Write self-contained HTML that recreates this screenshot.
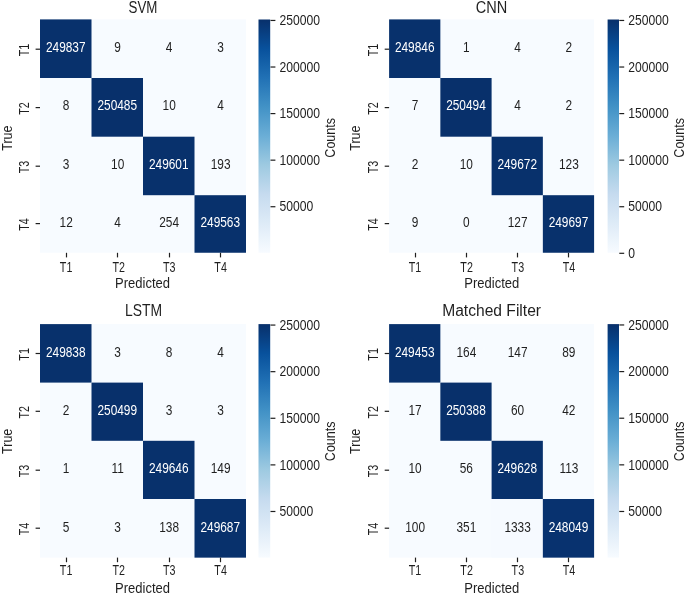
<!DOCTYPE html>
<html><head><meta charset="utf-8"><title>Confusion matrices</title>
<style>html,body{margin:0;padding:0;background:#fff}body{width:685px;height:595px;overflow:hidden}</style>
</head><body>
<svg width="685" height="595" viewBox="0 0 685 595" font-family="'Liberation Sans', sans-serif" style="display:block">
<defs><linearGradient id="g" x1="0" y1="1" x2="0" y2="0"><stop offset="0.0" stop-color="#f7fbff"/><stop offset="0.125" stop-color="#deebf7"/><stop offset="0.25" stop-color="#c6dbef"/><stop offset="0.375" stop-color="#9ecae1"/><stop offset="0.5" stop-color="#6baed6"/><stop offset="0.625" stop-color="#4292c6"/><stop offset="0.75" stop-color="#2171b5"/><stop offset="0.875" stop-color="#08519c"/><stop offset="1.0" stop-color="#08306b"/></linearGradient></defs>
<rect x="40.0" y="19.4" width="206.0" height="233.35" fill="#f7fbff"/>
<rect x="40.00" y="19.40" width="51.50" height="58.60" fill="#08316c"/>
<rect x="91.50" y="78.00" width="51.50" height="58.70" fill="#08306b"/>
<rect x="143.00" y="136.70" width="51.50" height="58.50" fill="#08316c"/>
<rect x="194.50" y="195.20" width="51.50" height="57.55" fill="#08316c"/>
<text transform="translate(65.75,52.06) scale(0.82,1)" font-size="14.5" text-anchor="middle" fill="#ffffff">249837</text>
<text transform="translate(117.65,52.06) scale(0.82,1)" font-size="14.5" text-anchor="middle" fill="#1f1f1f">9</text>
<text transform="translate(169.15,52.06) scale(0.82,1)" font-size="14.5" text-anchor="middle" fill="#1f1f1f">4</text>
<text transform="translate(220.65,52.06) scale(0.82,1)" font-size="14.5" text-anchor="middle" fill="#1f1f1f">3</text>
<text transform="translate(66.15,110.39) scale(0.82,1)" font-size="14.5" text-anchor="middle" fill="#1f1f1f">8</text>
<text transform="translate(117.25,110.39) scale(0.82,1)" font-size="14.5" text-anchor="middle" fill="#ffffff">250485</text>
<text transform="translate(169.15,110.39) scale(0.82,1)" font-size="14.5" text-anchor="middle" fill="#1f1f1f">10</text>
<text transform="translate(220.65,110.39) scale(0.82,1)" font-size="14.5" text-anchor="middle" fill="#1f1f1f">4</text>
<text transform="translate(66.15,168.71) scale(0.82,1)" font-size="14.5" text-anchor="middle" fill="#1f1f1f">3</text>
<text transform="translate(117.65,168.71) scale(0.82,1)" font-size="14.5" text-anchor="middle" fill="#1f1f1f">10</text>
<text transform="translate(168.75,168.71) scale(0.82,1)" font-size="14.5" text-anchor="middle" fill="#ffffff">249601</text>
<text transform="translate(220.65,168.71) scale(0.82,1)" font-size="14.5" text-anchor="middle" fill="#1f1f1f">193</text>
<text transform="translate(66.15,227.04) scale(0.82,1)" font-size="14.5" text-anchor="middle" fill="#1f1f1f">12</text>
<text transform="translate(117.65,227.04) scale(0.82,1)" font-size="14.5" text-anchor="middle" fill="#1f1f1f">4</text>
<text transform="translate(169.15,227.04) scale(0.82,1)" font-size="14.5" text-anchor="middle" fill="#1f1f1f">254</text>
<text transform="translate(220.25,227.04) scale(0.82,1)" font-size="14.5" text-anchor="middle" fill="#ffffff">249563</text>
<text transform="translate(143.00,12.50) scale(0.855,1)" font-size="15.6" text-anchor="middle" fill="#1f1f1f">SVM</text>
<line x1="66.50" y1="252.80" x2="66.50" y2="257.40" stroke="#1f1f1f" stroke-width="1.2"/>
<text transform="translate(66.10,271.70) scale(0.755,1)" font-size="14.2" text-anchor="middle" fill="#1f1f1f">T1</text>
<line x1="35.60" y1="49.20" x2="40.00" y2="49.20" stroke="#1f1f1f" stroke-width="1.2"/>
<text transform="translate(28.80,50.10) rotate(-90) scale(0.755,1)" font-size="14.2" text-anchor="middle" fill="#1f1f1f">T1</text>
<line x1="117.50" y1="252.80" x2="117.50" y2="257.40" stroke="#1f1f1f" stroke-width="1.2"/>
<text transform="translate(118.70,271.70) scale(0.755,1)" font-size="14.2" text-anchor="middle" fill="#1f1f1f">T2</text>
<line x1="35.60" y1="107.60" x2="40.00" y2="107.60" stroke="#1f1f1f" stroke-width="1.2"/>
<text transform="translate(28.80,108.50) rotate(-90) scale(0.755,1)" font-size="14.2" text-anchor="middle" fill="#1f1f1f">T2</text>
<line x1="169.50" y1="252.80" x2="169.50" y2="257.40" stroke="#1f1f1f" stroke-width="1.2"/>
<text transform="translate(169.30,271.70) scale(0.755,1)" font-size="14.2" text-anchor="middle" fill="#1f1f1f">T3</text>
<line x1="35.60" y1="166.20" x2="40.00" y2="166.20" stroke="#1f1f1f" stroke-width="1.2"/>
<text transform="translate(28.80,167.10) rotate(-90) scale(0.755,1)" font-size="14.2" text-anchor="middle" fill="#1f1f1f">T3</text>
<line x1="220.50" y1="252.80" x2="220.50" y2="257.40" stroke="#1f1f1f" stroke-width="1.2"/>
<text transform="translate(220.60,271.70) scale(0.755,1)" font-size="14.2" text-anchor="middle" fill="#1f1f1f">T4</text>
<line x1="35.60" y1="223.60" x2="40.00" y2="223.60" stroke="#1f1f1f" stroke-width="1.2"/>
<text transform="translate(28.80,224.50) rotate(-90) scale(0.755,1)" font-size="14.2" text-anchor="middle" fill="#1f1f1f">T4</text>
<text transform="translate(142.50,288.40) scale(0.943,1)" font-size="13.8" text-anchor="middle" fill="#1f1f1f">Predicted</text>
<text transform="translate(11.80,138.15) rotate(-90) scale(0.905,1)" font-size="13.8" text-anchor="middle" fill="#1f1f1f">True</text>
<rect x="258.5" y="19.5" width="11.70" height="233.3" fill="url(#g)"/>
<line x1="270.50" y1="206.73" x2="275.40" y2="206.73" stroke="#1f1f1f" stroke-width="1.2"/>
<text transform="translate(279.40,211.43) scale(0.856,1)" font-size="14.2" text-anchor="start" fill="#1f1f1f">50000</text>
<line x1="270.50" y1="160.16" x2="275.40" y2="160.16" stroke="#1f1f1f" stroke-width="1.2"/>
<text transform="translate(279.40,164.86) scale(0.856,1)" font-size="14.2" text-anchor="start" fill="#1f1f1f">100000</text>
<line x1="270.50" y1="113.59" x2="275.40" y2="113.59" stroke="#1f1f1f" stroke-width="1.2"/>
<text transform="translate(279.40,118.29) scale(0.856,1)" font-size="14.2" text-anchor="start" fill="#1f1f1f">150000</text>
<line x1="270.50" y1="67.02" x2="275.40" y2="67.02" stroke="#1f1f1f" stroke-width="1.2"/>
<text transform="translate(279.40,71.72) scale(0.856,1)" font-size="14.2" text-anchor="start" fill="#1f1f1f">200000</text>
<line x1="270.50" y1="20.45" x2="275.40" y2="20.45" stroke="#1f1f1f" stroke-width="1.2"/>
<text transform="translate(279.40,25.15) scale(0.856,1)" font-size="14.2" text-anchor="start" fill="#1f1f1f">250000</text>
<text transform="translate(334.80,137.85) rotate(-90) scale(0.905,1)" font-size="13.8" text-anchor="middle" fill="#1f1f1f">Counts</text>
<rect x="389.1" y="19.4" width="205.0" height="233.35" fill="#f7fbff"/>
<rect x="389.10" y="19.40" width="51.25" height="58.60" fill="#08316c"/>
<rect x="440.35" y="78.00" width="51.25" height="58.70" fill="#08306b"/>
<rect x="491.60" y="136.70" width="51.25" height="58.50" fill="#08316c"/>
<rect x="542.85" y="195.20" width="51.25" height="57.55" fill="#08316c"/>
<text transform="translate(414.73,52.06) scale(0.82,1)" font-size="14.5" text-anchor="middle" fill="#ffffff">249846</text>
<text transform="translate(466.38,52.06) scale(0.82,1)" font-size="14.5" text-anchor="middle" fill="#1f1f1f">1</text>
<text transform="translate(517.62,52.06) scale(0.82,1)" font-size="14.5" text-anchor="middle" fill="#1f1f1f">4</text>
<text transform="translate(568.88,52.06) scale(0.82,1)" font-size="14.5" text-anchor="middle" fill="#1f1f1f">2</text>
<text transform="translate(415.12,110.39) scale(0.82,1)" font-size="14.5" text-anchor="middle" fill="#1f1f1f">7</text>
<text transform="translate(465.98,110.39) scale(0.82,1)" font-size="14.5" text-anchor="middle" fill="#ffffff">250494</text>
<text transform="translate(517.62,110.39) scale(0.82,1)" font-size="14.5" text-anchor="middle" fill="#1f1f1f">4</text>
<text transform="translate(568.88,110.39) scale(0.82,1)" font-size="14.5" text-anchor="middle" fill="#1f1f1f">2</text>
<text transform="translate(415.12,168.71) scale(0.82,1)" font-size="14.5" text-anchor="middle" fill="#1f1f1f">2</text>
<text transform="translate(466.38,168.71) scale(0.82,1)" font-size="14.5" text-anchor="middle" fill="#1f1f1f">10</text>
<text transform="translate(517.23,168.71) scale(0.82,1)" font-size="14.5" text-anchor="middle" fill="#ffffff">249672</text>
<text transform="translate(568.88,168.71) scale(0.82,1)" font-size="14.5" text-anchor="middle" fill="#1f1f1f">123</text>
<text transform="translate(415.12,227.04) scale(0.82,1)" font-size="14.5" text-anchor="middle" fill="#1f1f1f">9</text>
<text transform="translate(466.38,227.04) scale(0.82,1)" font-size="14.5" text-anchor="middle" fill="#1f1f1f">0</text>
<text transform="translate(517.62,227.04) scale(0.82,1)" font-size="14.5" text-anchor="middle" fill="#1f1f1f">127</text>
<text transform="translate(568.48,227.04) scale(0.82,1)" font-size="14.5" text-anchor="middle" fill="#ffffff">249697</text>
<text transform="translate(491.60,12.50) scale(0.932,1)" font-size="15.6" text-anchor="middle" fill="#1f1f1f">CNN</text>
<line x1="415.50" y1="252.80" x2="415.50" y2="257.40" stroke="#1f1f1f" stroke-width="1.2"/>
<text transform="translate(414.93,271.70) scale(0.755,1)" font-size="14.2" text-anchor="middle" fill="#1f1f1f">T1</text>
<line x1="384.70" y1="49.20" x2="389.10" y2="49.20" stroke="#1f1f1f" stroke-width="1.2"/>
<text transform="translate(377.90,50.10) rotate(-90) scale(0.755,1)" font-size="14.2" text-anchor="middle" fill="#1f1f1f">T1</text>
<line x1="466.50" y1="252.80" x2="466.50" y2="257.40" stroke="#1f1f1f" stroke-width="1.2"/>
<text transform="translate(466.62,271.70) scale(0.755,1)" font-size="14.2" text-anchor="middle" fill="#1f1f1f">T2</text>
<line x1="384.70" y1="107.60" x2="389.10" y2="107.60" stroke="#1f1f1f" stroke-width="1.2"/>
<text transform="translate(377.90,108.50) rotate(-90) scale(0.755,1)" font-size="14.2" text-anchor="middle" fill="#1f1f1f">T2</text>
<line x1="517.50" y1="252.80" x2="517.50" y2="257.40" stroke="#1f1f1f" stroke-width="1.2"/>
<text transform="translate(517.88,271.70) scale(0.755,1)" font-size="14.2" text-anchor="middle" fill="#1f1f1f">T3</text>
<line x1="384.70" y1="166.20" x2="389.10" y2="166.20" stroke="#1f1f1f" stroke-width="1.2"/>
<text transform="translate(377.90,167.10) rotate(-90) scale(0.755,1)" font-size="14.2" text-anchor="middle" fill="#1f1f1f">T3</text>
<line x1="568.50" y1="252.80" x2="568.50" y2="257.40" stroke="#1f1f1f" stroke-width="1.2"/>
<text transform="translate(569.02,271.70) scale(0.755,1)" font-size="14.2" text-anchor="middle" fill="#1f1f1f">T4</text>
<line x1="384.70" y1="223.60" x2="389.10" y2="223.60" stroke="#1f1f1f" stroke-width="1.2"/>
<text transform="translate(377.90,224.50) rotate(-90) scale(0.755,1)" font-size="14.2" text-anchor="middle" fill="#1f1f1f">T4</text>
<text transform="translate(491.80,288.40) scale(0.943,1)" font-size="13.8" text-anchor="middle" fill="#1f1f1f">Predicted</text>
<text transform="translate(360.10,138.15) rotate(-90) scale(0.905,1)" font-size="13.8" text-anchor="middle" fill="#1f1f1f">True</text>
<rect x="607.6" y="19.5" width="11.40" height="233.3" fill="url(#g)"/>
<line x1="619.30" y1="253.30" x2="624.20" y2="253.30" stroke="#1f1f1f" stroke-width="1.2"/>
<text transform="translate(628.20,258.00) scale(0.856,1)" font-size="14.2" text-anchor="start" fill="#1f1f1f">0</text>
<line x1="619.30" y1="206.73" x2="624.20" y2="206.73" stroke="#1f1f1f" stroke-width="1.2"/>
<text transform="translate(628.20,211.43) scale(0.856,1)" font-size="14.2" text-anchor="start" fill="#1f1f1f">50000</text>
<line x1="619.30" y1="160.16" x2="624.20" y2="160.16" stroke="#1f1f1f" stroke-width="1.2"/>
<text transform="translate(628.20,164.86) scale(0.856,1)" font-size="14.2" text-anchor="start" fill="#1f1f1f">100000</text>
<line x1="619.30" y1="113.60" x2="624.20" y2="113.60" stroke="#1f1f1f" stroke-width="1.2"/>
<text transform="translate(628.20,118.30) scale(0.856,1)" font-size="14.2" text-anchor="start" fill="#1f1f1f">150000</text>
<line x1="619.30" y1="67.03" x2="624.20" y2="67.03" stroke="#1f1f1f" stroke-width="1.2"/>
<text transform="translate(628.20,71.73) scale(0.856,1)" font-size="14.2" text-anchor="start" fill="#1f1f1f">200000</text>
<line x1="619.30" y1="20.46" x2="624.20" y2="20.46" stroke="#1f1f1f" stroke-width="1.2"/>
<text transform="translate(628.20,25.16) scale(0.856,1)" font-size="14.2" text-anchor="start" fill="#1f1f1f">250000</text>
<text transform="translate(683.60,137.85) rotate(-90) scale(0.905,1)" font-size="13.8" text-anchor="middle" fill="#1f1f1f">Counts</text>
<rect x="40.0" y="324.1" width="206.0" height="233.55" fill="#f7fbff"/>
<rect x="40.00" y="324.10" width="51.50" height="58.50" fill="#08316c"/>
<rect x="91.50" y="382.60" width="51.50" height="58.20" fill="#08306b"/>
<rect x="143.00" y="440.80" width="51.50" height="58.20" fill="#08316c"/>
<rect x="194.50" y="499.00" width="51.50" height="58.65" fill="#08316c"/>
<text transform="translate(65.75,356.69) scale(0.82,1)" font-size="14.5" text-anchor="middle" fill="#ffffff">249838</text>
<text transform="translate(117.65,356.69) scale(0.82,1)" font-size="14.5" text-anchor="middle" fill="#1f1f1f">3</text>
<text transform="translate(169.15,356.69) scale(0.82,1)" font-size="14.5" text-anchor="middle" fill="#1f1f1f">8</text>
<text transform="translate(220.65,356.69) scale(0.82,1)" font-size="14.5" text-anchor="middle" fill="#1f1f1f">4</text>
<text transform="translate(66.15,415.06) scale(0.82,1)" font-size="14.5" text-anchor="middle" fill="#1f1f1f">2</text>
<text transform="translate(117.25,415.06) scale(0.82,1)" font-size="14.5" text-anchor="middle" fill="#ffffff">250499</text>
<text transform="translate(169.15,415.06) scale(0.82,1)" font-size="14.5" text-anchor="middle" fill="#1f1f1f">3</text>
<text transform="translate(220.65,415.06) scale(0.82,1)" font-size="14.5" text-anchor="middle" fill="#1f1f1f">3</text>
<text transform="translate(66.15,473.44) scale(0.82,1)" font-size="14.5" text-anchor="middle" fill="#1f1f1f">1</text>
<text transform="translate(117.65,473.44) scale(0.82,1)" font-size="14.5" text-anchor="middle" fill="#1f1f1f">11</text>
<text transform="translate(168.75,473.44) scale(0.82,1)" font-size="14.5" text-anchor="middle" fill="#ffffff">249646</text>
<text transform="translate(220.65,473.44) scale(0.82,1)" font-size="14.5" text-anchor="middle" fill="#1f1f1f">149</text>
<text transform="translate(66.15,531.81) scale(0.82,1)" font-size="14.5" text-anchor="middle" fill="#1f1f1f">5</text>
<text transform="translate(117.65,531.81) scale(0.82,1)" font-size="14.5" text-anchor="middle" fill="#1f1f1f">3</text>
<text transform="translate(169.15,531.81) scale(0.82,1)" font-size="14.5" text-anchor="middle" fill="#1f1f1f">138</text>
<text transform="translate(220.25,531.81) scale(0.82,1)" font-size="14.5" text-anchor="middle" fill="#ffffff">249687</text>
<text transform="translate(143.60,316.00) scale(0.893,1)" font-size="15.6" text-anchor="middle" fill="#1f1f1f">LSTM</text>
<line x1="66.50" y1="557.60" x2="66.50" y2="562.20" stroke="#1f1f1f" stroke-width="1.2"/>
<text transform="translate(66.10,575.30) scale(0.755,1)" font-size="14.2" text-anchor="middle" fill="#1f1f1f">T1</text>
<line x1="35.60" y1="353.50" x2="40.00" y2="353.50" stroke="#1f1f1f" stroke-width="1.2"/>
<text transform="translate(28.80,354.40) rotate(-90) scale(0.755,1)" font-size="14.2" text-anchor="middle" fill="#1f1f1f">T1</text>
<line x1="117.50" y1="557.60" x2="117.50" y2="562.20" stroke="#1f1f1f" stroke-width="1.2"/>
<text transform="translate(118.70,575.30) scale(0.755,1)" font-size="14.2" text-anchor="middle" fill="#1f1f1f">T2</text>
<line x1="35.60" y1="411.30" x2="40.00" y2="411.30" stroke="#1f1f1f" stroke-width="1.2"/>
<text transform="translate(28.80,412.20) rotate(-90) scale(0.755,1)" font-size="14.2" text-anchor="middle" fill="#1f1f1f">T2</text>
<line x1="169.50" y1="557.60" x2="169.50" y2="562.20" stroke="#1f1f1f" stroke-width="1.2"/>
<text transform="translate(169.30,575.30) scale(0.755,1)" font-size="14.2" text-anchor="middle" fill="#1f1f1f">T3</text>
<line x1="35.60" y1="470.20" x2="40.00" y2="470.20" stroke="#1f1f1f" stroke-width="1.2"/>
<text transform="translate(28.80,471.10) rotate(-90) scale(0.755,1)" font-size="14.2" text-anchor="middle" fill="#1f1f1f">T3</text>
<line x1="220.50" y1="557.60" x2="220.50" y2="562.20" stroke="#1f1f1f" stroke-width="1.2"/>
<text transform="translate(220.60,575.30) scale(0.755,1)" font-size="14.2" text-anchor="middle" fill="#1f1f1f">T4</text>
<line x1="35.60" y1="528.20" x2="40.00" y2="528.20" stroke="#1f1f1f" stroke-width="1.2"/>
<text transform="translate(28.80,529.10) rotate(-90) scale(0.755,1)" font-size="14.2" text-anchor="middle" fill="#1f1f1f">T4</text>
<text transform="translate(142.50,592.60) scale(0.943,1)" font-size="13.8" text-anchor="middle" fill="#1f1f1f">Predicted</text>
<text transform="translate(11.80,441.30) rotate(-90) scale(0.905,1)" font-size="13.8" text-anchor="middle" fill="#1f1f1f">True</text>
<rect x="258.5" y="324.1" width="11.70" height="233.5" fill="url(#g)"/>
<line x1="270.50" y1="511.49" x2="275.40" y2="511.49" stroke="#1f1f1f" stroke-width="1.2"/>
<text transform="translate(279.40,516.19) scale(0.856,1)" font-size="14.2" text-anchor="start" fill="#1f1f1f">50000</text>
<line x1="270.50" y1="464.89" x2="275.40" y2="464.89" stroke="#1f1f1f" stroke-width="1.2"/>
<text transform="translate(279.40,469.59) scale(0.856,1)" font-size="14.2" text-anchor="start" fill="#1f1f1f">100000</text>
<line x1="270.50" y1="418.28" x2="275.40" y2="418.28" stroke="#1f1f1f" stroke-width="1.2"/>
<text transform="translate(279.40,422.98) scale(0.856,1)" font-size="14.2" text-anchor="start" fill="#1f1f1f">150000</text>
<line x1="270.50" y1="371.67" x2="275.40" y2="371.67" stroke="#1f1f1f" stroke-width="1.2"/>
<text transform="translate(279.40,376.37) scale(0.856,1)" font-size="14.2" text-anchor="start" fill="#1f1f1f">200000</text>
<line x1="270.50" y1="325.07" x2="275.40" y2="325.07" stroke="#1f1f1f" stroke-width="1.2"/>
<text transform="translate(279.40,329.77) scale(0.856,1)" font-size="14.2" text-anchor="start" fill="#1f1f1f">250000</text>
<text transform="translate(334.80,441.35) rotate(-90) scale(0.905,1)" font-size="13.8" text-anchor="middle" fill="#1f1f1f">Counts</text>
<rect x="389.1" y="324.1" width="205.0" height="233.55" fill="#f7fbff"/>
<rect x="389.10" y="324.10" width="51.25" height="58.50" fill="#08316c"/>
<rect x="440.35" y="382.60" width="51.25" height="58.20" fill="#08306b"/>
<rect x="491.60" y="440.80" width="51.25" height="58.20" fill="#08316c"/>
<rect x="491.60" y="499.00" width="51.25" height="58.65" fill="#f6faff"/>
<rect x="542.85" y="499.00" width="51.25" height="58.65" fill="#08326f"/>
<text transform="translate(414.73,356.69) scale(0.82,1)" font-size="14.5" text-anchor="middle" fill="#ffffff">249453</text>
<text transform="translate(466.38,356.69) scale(0.82,1)" font-size="14.5" text-anchor="middle" fill="#1f1f1f">164</text>
<text transform="translate(517.62,356.69) scale(0.82,1)" font-size="14.5" text-anchor="middle" fill="#1f1f1f">147</text>
<text transform="translate(568.88,356.69) scale(0.82,1)" font-size="14.5" text-anchor="middle" fill="#1f1f1f">89</text>
<text transform="translate(415.12,415.06) scale(0.82,1)" font-size="14.5" text-anchor="middle" fill="#1f1f1f">17</text>
<text transform="translate(465.98,415.06) scale(0.82,1)" font-size="14.5" text-anchor="middle" fill="#ffffff">250388</text>
<text transform="translate(517.62,415.06) scale(0.82,1)" font-size="14.5" text-anchor="middle" fill="#1f1f1f">60</text>
<text transform="translate(568.88,415.06) scale(0.82,1)" font-size="14.5" text-anchor="middle" fill="#1f1f1f">42</text>
<text transform="translate(415.12,473.44) scale(0.82,1)" font-size="14.5" text-anchor="middle" fill="#1f1f1f">10</text>
<text transform="translate(466.38,473.44) scale(0.82,1)" font-size="14.5" text-anchor="middle" fill="#1f1f1f">56</text>
<text transform="translate(517.23,473.44) scale(0.82,1)" font-size="14.5" text-anchor="middle" fill="#ffffff">249628</text>
<text transform="translate(568.88,473.44) scale(0.82,1)" font-size="14.5" text-anchor="middle" fill="#1f1f1f">113</text>
<text transform="translate(415.12,531.81) scale(0.82,1)" font-size="14.5" text-anchor="middle" fill="#1f1f1f">100</text>
<text transform="translate(466.38,531.81) scale(0.82,1)" font-size="14.5" text-anchor="middle" fill="#1f1f1f">351</text>
<text transform="translate(517.62,531.81) scale(0.82,1)" font-size="14.5" text-anchor="middle" fill="#1f1f1f">1333</text>
<text transform="translate(568.48,531.81) scale(0.82,1)" font-size="14.5" text-anchor="middle" fill="#ffffff">248049</text>
<text transform="translate(491.60,316.00) scale(1.0,1)" font-size="15.6" text-anchor="middle" fill="#1f1f1f">Matched Filter</text>
<line x1="415.50" y1="557.60" x2="415.50" y2="562.20" stroke="#1f1f1f" stroke-width="1.2"/>
<text transform="translate(414.93,575.30) scale(0.755,1)" font-size="14.2" text-anchor="middle" fill="#1f1f1f">T1</text>
<line x1="384.70" y1="353.50" x2="389.10" y2="353.50" stroke="#1f1f1f" stroke-width="1.2"/>
<text transform="translate(377.90,354.40) rotate(-90) scale(0.755,1)" font-size="14.2" text-anchor="middle" fill="#1f1f1f">T1</text>
<line x1="466.50" y1="557.60" x2="466.50" y2="562.20" stroke="#1f1f1f" stroke-width="1.2"/>
<text transform="translate(466.62,575.30) scale(0.755,1)" font-size="14.2" text-anchor="middle" fill="#1f1f1f">T2</text>
<line x1="384.70" y1="411.30" x2="389.10" y2="411.30" stroke="#1f1f1f" stroke-width="1.2"/>
<text transform="translate(377.90,412.20) rotate(-90) scale(0.755,1)" font-size="14.2" text-anchor="middle" fill="#1f1f1f">T2</text>
<line x1="517.50" y1="557.60" x2="517.50" y2="562.20" stroke="#1f1f1f" stroke-width="1.2"/>
<text transform="translate(517.88,575.30) scale(0.755,1)" font-size="14.2" text-anchor="middle" fill="#1f1f1f">T3</text>
<line x1="384.70" y1="470.20" x2="389.10" y2="470.20" stroke="#1f1f1f" stroke-width="1.2"/>
<text transform="translate(377.90,471.10) rotate(-90) scale(0.755,1)" font-size="14.2" text-anchor="middle" fill="#1f1f1f">T3</text>
<line x1="568.50" y1="557.60" x2="568.50" y2="562.20" stroke="#1f1f1f" stroke-width="1.2"/>
<text transform="translate(569.02,575.30) scale(0.755,1)" font-size="14.2" text-anchor="middle" fill="#1f1f1f">T4</text>
<line x1="384.70" y1="528.20" x2="389.10" y2="528.20" stroke="#1f1f1f" stroke-width="1.2"/>
<text transform="translate(377.90,529.10) rotate(-90) scale(0.755,1)" font-size="14.2" text-anchor="middle" fill="#1f1f1f">T4</text>
<text transform="translate(491.80,592.60) scale(0.943,1)" font-size="13.8" text-anchor="middle" fill="#1f1f1f">Predicted</text>
<text transform="translate(360.10,441.30) rotate(-90) scale(0.905,1)" font-size="13.8" text-anchor="middle" fill="#1f1f1f">True</text>
<rect x="607.6" y="324.1" width="11.40" height="233.5" fill="url(#g)"/>
<line x1="619.30" y1="511.48" x2="624.20" y2="511.48" stroke="#1f1f1f" stroke-width="1.2"/>
<text transform="translate(628.20,516.18) scale(0.856,1)" font-size="14.2" text-anchor="start" fill="#1f1f1f">50000</text>
<line x1="619.30" y1="464.85" x2="624.20" y2="464.85" stroke="#1f1f1f" stroke-width="1.2"/>
<text transform="translate(628.20,469.55) scale(0.856,1)" font-size="14.2" text-anchor="start" fill="#1f1f1f">100000</text>
<line x1="619.30" y1="418.22" x2="624.20" y2="418.22" stroke="#1f1f1f" stroke-width="1.2"/>
<text transform="translate(628.20,422.92) scale(0.856,1)" font-size="14.2" text-anchor="start" fill="#1f1f1f">150000</text>
<line x1="619.30" y1="371.59" x2="624.20" y2="371.59" stroke="#1f1f1f" stroke-width="1.2"/>
<text transform="translate(628.20,376.29) scale(0.856,1)" font-size="14.2" text-anchor="start" fill="#1f1f1f">200000</text>
<line x1="619.30" y1="324.96" x2="624.20" y2="324.96" stroke="#1f1f1f" stroke-width="1.2"/>
<text transform="translate(628.20,329.66) scale(0.856,1)" font-size="14.2" text-anchor="start" fill="#1f1f1f">250000</text>
<text transform="translate(683.60,441.35) rotate(-90) scale(0.905,1)" font-size="13.8" text-anchor="middle" fill="#1f1f1f">Counts</text>
</svg>
</body></html>
